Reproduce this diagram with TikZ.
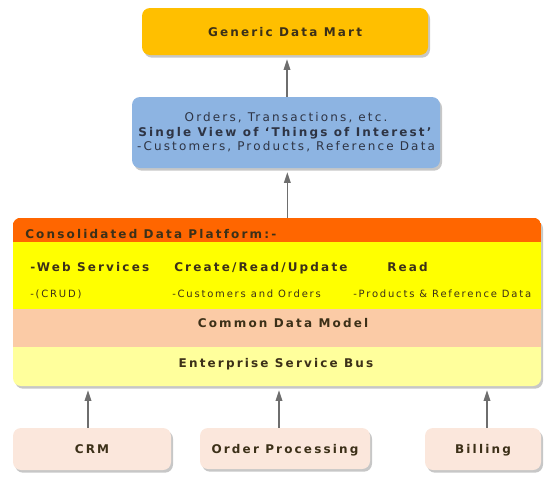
\documentclass[tikz,border=0pt]{standalone}
\usepackage{fontspec}
\setmainfont{DejaVu Sans}
\newfontfamily\spaced[LetterSpace=18]{DejaVu Sans}
\usetikzlibrary{positioning,shadows,arrows.meta}

\definecolor{martyellow}{HTML}{FFBF00}
\definecolor{viewblue}{HTML}{8DB4E2}
\definecolor{hdrorange}{HTML}{FF6600}
\definecolor{svcyellow}{HTML}{FFFF00}
\definecolor{cdmpeach}{HTML}{FBCBA6}
\definecolor{esbyellow}{HTML}{FFFF9C}
\definecolor{srcpeach}{HTML}{FBE7DC}
\definecolor{arrowgray}{HTML}{6E6E6E}
\definecolor{ink}{HTML}{3C3018}
\definecolor{navyink}{HTML}{2E3444}

\tikzset{
  box/.style={rounded corners=6pt, draw=none, inner sep=0pt,
    drop shadow={shadow xshift=1.5pt, shadow yshift=-2pt, fill=black, opacity=.22}},
  stripe/.style={draw=none, inner sep=0pt, outer sep=0pt, minimum width=396pt},
  bigtxt/.style={font=\spaced\bfseries\fontsize{9}{11}\selectfont, text=ink,
    inner sep=0pt, text height=1.5ex, text depth=.25ex},
  svctxt/.style={font=\spaced\bfseries\fontsize{9}{11}\selectfont, text=ink,
    inner sep=0pt, text height=1.5ex, text depth=.25ex},
  smalltxt/.style={font=\spaced\fontsize{7.5}{9}\selectfont, text=ink,
    inner sep=0pt, text height=1.5ex, text depth=.25ex},
  flow/.style={draw=arrowgray, line width=1.1pt,
    -{Triangle[length=8pt,width=5pt]}, shorten >=3pt}
}

\begin{document}
\begin{tikzpicture}[x=0.75pt,y=-0.75pt]
\useasboundingbox (0,0) rectangle (550,493);

% top boxes
\node[box, fill=martyellow, minimum width=214.5pt, minimum height=35.25pt,
  bigtxt] (mart) at (285,31.5) {Generic Data Mart};
\node[box, fill=viewblue, minimum width=231pt, minimum height=53.25pt,
  align=center, text=navyink,
  font=\spaced\fontsize{9}{10.9}\selectfont] (view) at (286,132.5)
  {Orders, Transactions, etc.\\ \textbf{Single View of ‘Things of Interest’}\\
   -Customers, Products, Reference Data};

% platform
\node[box, fill=esbyellow, minimum width=396pt, minimum height=126pt] (platform) at (277,302) {};
\begin{scope}
\clip[rounded corners=6pt] (platform.south west) rectangle (platform.north east);
\node[stripe, fill=hdrorange, minimum height=18pt] (hdr) at (277,230) {};
\node[stripe, fill=svcyellow, minimum height=50.25pt] (svc) at (277,275.5) {};
\node[stripe, fill=cdmpeach, minimum height=28.5pt] (cdm) at (277,328) {};
\end{scope}

\node[bigtxt, anchor=west] (hdrtxt) at (25,234) {Consolidated Data Platform:-};
\node[svctxt, anchor=west] (web) at (30,267) {-Web Services};
\node[svctxt, anchor=west] (crud) at (174,267) {Create/Read/Update};
\node[svctxt, anchor=west] (read) at (387,267) {Read};
\node[smalltxt, anchor=west] (crudnote) at (30,293) {-(CRUD)};
\node[smalltxt, anchor=west] (custnote) at (172,293) {-Customers and Orders};
\node[smalltxt, anchor=west] (prodnote) at (353,293) {-Products \& Reference Data};
\node[bigtxt] (cdmtxt) at (283,323) {Common Data Model};
\node[bigtxt] (esbtxt) at (276,363) {Enterprise Service Bus};

% source systems
\node[box, fill=srcpeach, minimum width=118.5pt, minimum height=31.5pt, bigtxt] (crm) at (92,449) {CRM};
\node[box, fill=srcpeach, minimum width=127.5pt, minimum height=30.75pt, bigtxt] (order) at (285,448.5) {Order Processing};
\node[box, fill=srcpeach, minimum width=87pt, minimum height=31.5pt, bigtxt] (billing) at (483,449) {Billing};

% arrows
\draw[flow] ([xshift=1.5pt]view.north -| mart.south) -- ([xshift=1.5pt]mart.south);
\draw[flow] ([xshift=1pt]platform.north -| view.south) -- ([xshift=1pt]view.south);
\draw[flow] ([xshift=-3pt]crm.north) -- ([xshift=-3pt]crm.north |- platform.south);
\draw[flow] ([xshift=-4.5pt]order.north) -- ([xshift=-4.5pt]order.north |- platform.south);
\draw[flow] ([xshift=3pt]billing.north) -- ([xshift=3pt]billing.north |- platform.south);
\end{tikzpicture}
\end{document}
